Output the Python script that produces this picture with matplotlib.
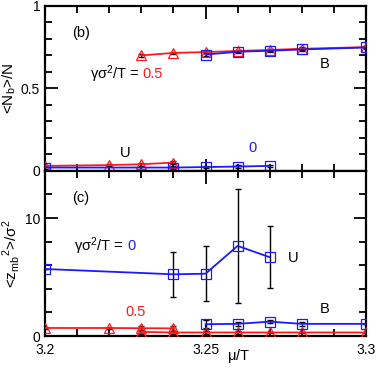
import matplotlib
matplotlib.use("Agg")
import matplotlib.pyplot as plt
from matplotlib.ticker import MultipleLocator

plt.rcParams['font.family'] = ['Liberation Sans', 'DejaVu Sans']

# panel (b): <N_b>/N
mu_u_red = [3.20, 3.22, 3.23, 3.24]
nb_u_red = [0.03, 0.035, 0.04, 0.05]
mu_b_red = [3.23, 3.24, 3.25, 3.26, 3.27, 3.28, 3.30]
nb_b_red = [0.70, 0.715, 0.72, 0.727, 0.733, 0.74, 0.75]
mu_u_blue = [3.20, 3.24, 3.25, 3.26, 3.27]
nb_u_blue = [0.02, 0.02, 0.023, 0.026, 0.03]
mu_b_blue = [3.25, 3.26, 3.27, 3.28, 3.30]
nb_b_blue = [0.705, 0.722, 0.728, 0.736, 0.748]

# panel (c): <z_mb^2>/sigma^2
mu_zu_blue = [3.20, 3.24, 3.25, 3.26, 3.27]
z_u_blue = [5.68, 5.23, 5.28, 7.64, 6.68]
z_u_blue_err = [0.0, 1.9, 2.34, 4.8, 2.64]
mu_zb_blue = [3.25, 3.26, 3.27, 3.28, 3.30]
z_b_blue = [1.0, 1.03, 1.22, 1.03, 1.03]
z_b_blue_err = [0.35, 0.2, 0.15, 0.2, 0.0]
mu_zu_red = [3.20, 3.22, 3.23, 3.24]
z_u_red = [0.68, 0.68, 0.66, 0.65]
z_u_red_err = [0.05, 0.05, 0.2, 0.2]
mu_zb_red = [3.23, 3.24, 3.25, 3.26, 3.27, 3.28, 3.30]
z_b_red = [0.35, 0.3, 0.3, 0.3, 0.3, 0.3, 0.3]
z_b_red_err = [0.15, 0.15, 0.15, 0.1, 0.05, 0.05, 0.05]

fig = plt.figure(figsize=(3.82, 3.69), dpi=100)
ax1 = fig.add_axes([0.118, 0.537, 0.840, 0.447])
ax2 = fig.add_axes([0.118, 0.0894, 0.840, 0.4476])

red = "#ff1a1a"
blue = "#1a1aff"
fs = 10.5

def series(ax, x, y, c, m, err=None, small=0.008):
    if err is None:
        err = [small] * len(x)
    ax.errorbar(x, y, yerr=err, fmt="none", ecolor="black", elinewidth=1.0,
                capsize=2.5, capthick=1.0, zorder=2)
    ax.plot(x, y, color=c, lw=1.3, marker=m, ms=6.5, mfc="none", mec=c,
            mew=0.9, zorder=3)

series(ax1, mu_u_red, nb_u_red, red, "^")
series(ax1, mu_b_red, nb_b_red, red, "^")
series(ax1, mu_u_blue, nb_u_blue, blue, "s")
series(ax1, mu_b_blue, nb_b_blue, blue, "s")

series(ax2, mu_zu_red, z_u_red, red, "^", z_u_red_err)
series(ax2, mu_zb_red, z_b_red, red, "^", z_b_red_err)
series(ax2, mu_zu_blue, z_u_blue, blue, "s", z_u_blue_err)
series(ax2, mu_zb_blue, z_b_blue, blue, "s", z_b_blue_err)

for ax in (ax1, ax2):
    ax.set_xlim(3.2, 3.3)
    ax.xaxis.set_major_locator(MultipleLocator(0.05))
    ax.xaxis.set_minor_locator(MultipleLocator(0.01))
    ax.tick_params(which="both", direction="in", top=True, right=True,
                   labelsize=fs - 0.5, width=1.3)
    ax.tick_params(which="major", length=9)
    ax.tick_params(which="minor", length=5)
    for s in ax.spines.values():
        s.set_linewidth(1.6)

ax1.set_ylim(0, 1)
ax1.set_yticks([0, 0.5, 1])
ax1.set_yticklabels(["0", "0.5", "1"])
ax1.yaxis.set_minor_locator(MultipleLocator(0.1))
ax1.tick_params(labelbottom=False)
ax1.set_ylabel(r"<N$_\mathregular{b}$>/N", fontsize=fs + 0.5, labelpad=2)

ax2.set_ylim(0, 14)
ax2.set_yticks([0, 10])
ax2.yaxis.set_minor_locator(MultipleLocator(2))
ax2.set_xticks([3.2, 3.25, 3.3])
ax2.set_xticklabels(["3.2", "3.25", "3.3"])
ax2.tick_params(axis="x", pad=5)
ax2.set_ylabel(r"<z$_\mathregular{mb}$$^\mathregular{2}$>/$\mathregular{\sigma^2}$",
               fontsize=fs + 0.5, labelpad=2)
fig.text(239 / 382, 1 - 356 / 369, r"$\mathregular{\mu}$/T", fontsize=fs,
         ha="center", va="center")

# annotations (b)
ax1.text(3.2084, 0.835, "(b)", fontsize=fs, va="center")
ax1.text(3.2141, 0.585, r"$\mathregular{\gamma\sigma^2}$/T = ", fontsize=fs, va="center")
ax1.text(3.2302, 0.585, "0.5", fontsize=fs, color=red, va="center")
ax1.text(3.2855, 0.646, "B", fontsize=fs, va="center")
ax1.text(3.2233, 0.11, "U", fontsize=fs, va="center")
ax1.text(3.2635, 0.14, "0", fontsize=fs, color=blue, va="center")

# annotations (c)
ax2.text(3.2084, 11.73, "(c)", fontsize=fs, va="center")
ax2.text(3.2091, 7.64, r"$\mathregular{\gamma\sigma^2}$/T = ", fontsize=fs, va="center")
ax2.text(3.2258, 7.64, "0", fontsize=fs, color=blue, va="center")
ax2.text(3.2756, 6.6, "U", fontsize=fs, va="center")
ax2.text(3.2855, 2.27, "B", fontsize=fs, va="center")
ax2.text(3.2250, 2.0, "0.5", fontsize=fs, color=red, va="center")

fig.savefig("out.png", dpi=100)
